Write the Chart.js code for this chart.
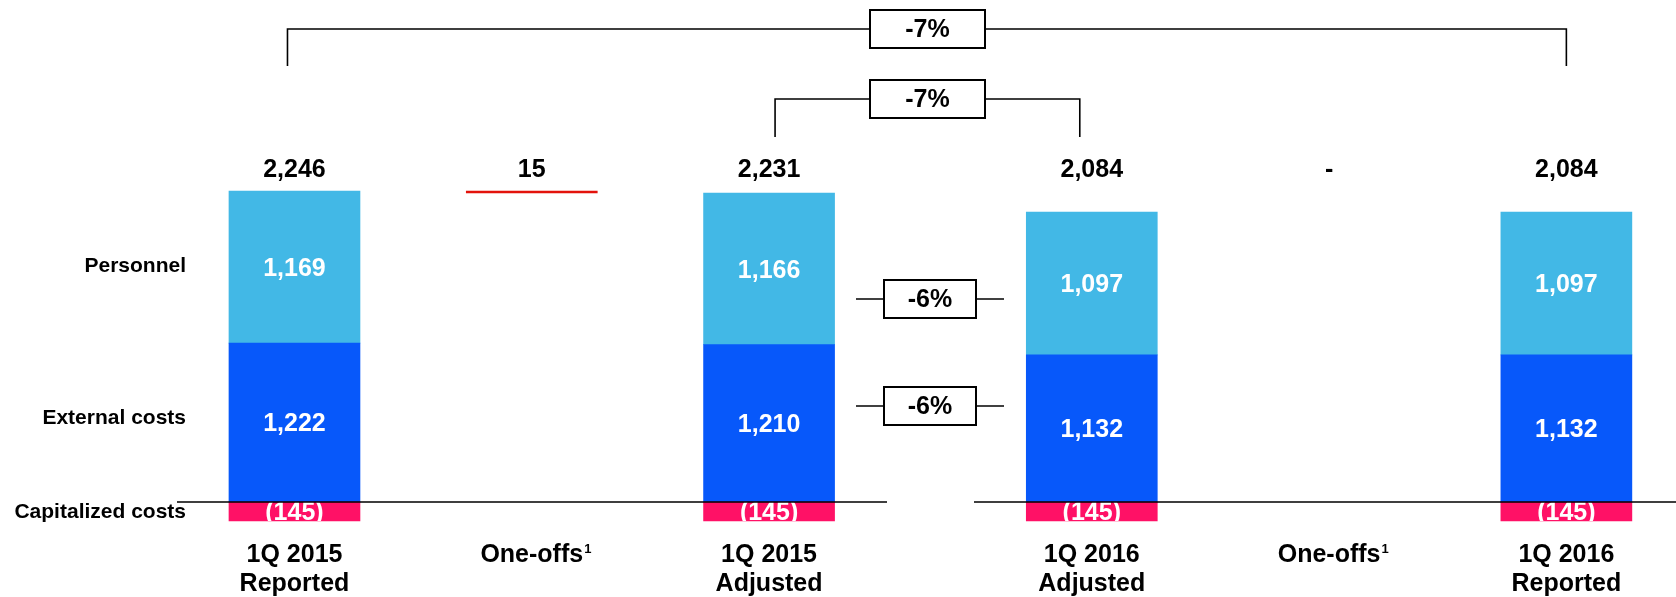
<!DOCTYPE html>
<html>
<head>
<meta charset="utf-8">
<script src="https://cdn.jsdelivr.net/npm/chart.js@4.4.1/dist/chart.umd.min.js"></script>
<style>
  html, body { margin: 0; padding: 0; background: #ffffff; overflow: hidden; }
  canvas { display: block; }
</style>
</head>
<body>
<canvas id="costs" width="1676" height="597"></canvas>
<script>
// Cost bridge, 1Q 2015 to 1Q 2016 (EUR m)
const categoryLines = [['1Q 2015', 'Reported'], ['One-offs'], ['1Q 2015', 'Adjusted'],
                       ['1Q 2016', 'Adjusted'], ['One-offs'], ['1Q 2016', 'Reported']];
const footnoteMarks = ['', '1', '', '', '1', ''];
const personnel        = [1169, null, 1166, 1097, null, 1097];
const externalCosts    = [1222, null, 1210, 1132, null, 1132];
const capitalizedCosts = [-145, null, -145, -145, null, -145];
const oneOffs          = [null, 15, null, null, 0, null];
const rowLabels = ['Personnel', 'External costs', 'Capitalized costs'];
const changeLabels = ['-7%', '-7%', '-6%', '-6%'];

// Horizontal slot of each column (the adjusted comparison gets extra room)
const slotPos = [0, 1, 2, 3.36, 4.36, 5.36];

const COLORS = {
  personnel: '#42B8E6',
  external: '#0758FA',
  capitalized: '#FF1166',
  oneOff: '#E3120B'
};
const FONT = '"Liberation Sans", Arial, Helvetica, sans-serif';

function points(values) {
  const out = [];
  values.forEach((v, i) => { if (v !== null) out.push({ x: slotPos[i], y: v }); });
  return out;
}

// One-off bars float on top of the previous column's gross stack
function oneOffPoints() {
  const out = [];
  oneOffs.forEach((v, i) => {
    if (v === null || v === 0) return;
    const top = personnel[i - 1] + externalCosts[i - 1];
    out.push({ x: slotPos[i], y: [top - v, top] });
  });
  return out;
}

const fmt = v => v.toLocaleString('en-US');

const overlay = {
  id: 'overlay',
  afterDatasetsDraw(chart) {
    const ctx = chart.ctx;
    const xs = chart.scales.x, ys = chart.scales.y;
    const cx = i => xs.getPixelForValue(slotPos[i]);
    const y0 = ys.getPixelForValue(0);
    ctx.save();

    // values inside the stacked segments
    ctx.textAlign = 'center';
    ctx.textBaseline = 'middle';
    ctx.fillStyle = '#ffffff';
    ctx.font = 'bold 25px ' + FONT;
    [1, 2].forEach(d => {
      const meta = chart.getDatasetMeta(d);
      meta.data.forEach((el, k) => {
        const v = meta._parsed[k].y;
        ctx.fillText(fmt(v), el.x, (el.y + el.base) / 2 + 2);
      });
    });
    // capitalized costs labels, clipped to the thin bars
    const metaC = chart.getDatasetMeta(0);
    metaC.data.forEach((el, k) => {
      const v = metaC._parsed[k].y;
      ctx.save();
      const top = Math.min(el.y, el.base), bot = Math.max(el.y, el.base);
      ctx.beginPath();
      ctx.rect(el.x - el.width / 2, top, el.width, bot - top);
      ctx.clip();
      ctx.fillText('(' + fmt(Math.abs(v)) + ')', el.x, (top + bot) / 2 + 2);
      ctx.restore();
    });

    // zero line, interrupted next to the change boxes
    ctx.strokeStyle = '#000000';
    ctx.lineWidth = 1.6;
    ctx.beginPath();
    ctx.moveTo(177, y0); ctx.lineTo(887, y0);
    ctx.moveTo(974, y0); ctx.lineTo(1676, y0);
    ctx.stroke();

    // totals row
    ctx.fillStyle = '#000000';
    ctx.font = 'bold 25px ' + FONT;
    const rowY = 170;
    for (let i = 0; i < slotPos.length; i++) {
      let txt;
      if (oneOffs[i] !== null) txt = oneOffs[i] === 0 ? '-' : fmt(oneOffs[i]);
      else txt = fmt(personnel[i] + externalCosts[i] + capitalizedCosts[i]);
      ctx.fillText(txt, cx(i), rowY);
    }

    // row labels on the left
    ctx.textAlign = 'right';
    ctx.font = 'bold 21px ' + FONT;
    const lx = 186;
    ctx.fillText(rowLabels[0], lx, ys.getPixelForValue(externalCosts[0] + personnel[0] / 2) - 1);
    ctx.fillText(rowLabels[1], lx, ys.getPixelForValue(externalCosts[0] / 2) - 4);
    ctx.fillText(rowLabels[2], lx, ys.getPixelForValue(capitalizedCosts[0] / 2) + 1);

    // category labels
    ctx.textAlign = 'center';
    for (let i = 0; i < categoryLines.length; i++) {
      const lines = categoryLines[i];
      lines.forEach((line, j) => {
        ctx.font = 'bold 25px ' + FONT;
        ctx.fillText(line, cx(i), 555 + j * 29);
        if (j === lines.length - 1 && footnoteMarks[i]) {
          const w = ctx.measureText(line).width;
          ctx.textAlign = 'left';
          ctx.font = 'bold 13px ' + FONT;
          ctx.fillText(footnoteMarks[i], cx(i) + w / 2 + 1, 549 + j * 29);
          ctx.textAlign = 'center';
        }
      });
    }

    // change brackets and boxes
    ctx.lineWidth = 1.6;
    function box(x, y, w, h, label) {
      ctx.fillStyle = '#ffffff';
      ctx.fillRect(x - w / 2, y - h / 2, w, h);
      ctx.lineWidth = 2;
      ctx.strokeRect(x - w / 2, y - h / 2, w, h);
      ctx.lineWidth = 1.6;
      ctx.fillStyle = '#000000';
      ctx.font = 'bold 25px ' + FONT;
      ctx.textAlign = 'center';
      ctx.fillText(label, x, y + 1);
    }
    function bracket(xl, xr, y, yb, label, bw, bh) {
      const bx = 927.5;
      ctx.beginPath();
      ctx.moveTo(xl, yb); ctx.lineTo(xl, y); ctx.lineTo(xr, y); ctx.lineTo(xr, yb);
      ctx.stroke();
      box(bx, y, bw, bh, label);
    }
    bracket(cx(0) - 7, cx(5), 29, 66, changeLabels[0], 115, 38);
    bracket(cx(2) + 6, cx(3) - 12, 99, 137, changeLabels[1], 115, 38);

    function segmentChange(y, label) {
      ctx.beginPath();
      ctx.moveTo(856, y); ctx.lineTo(1004, y);
      ctx.stroke();
      box(930, y, 92, 38, label);
    }
    segmentChange(299, changeLabels[2]);
    segmentChange(406, changeLabels[3]);

    ctx.restore();
  }
};

new Chart(document.getElementById('costs'), {
  type: 'bar',
  data: {
    datasets: [
      { label: 'Capitalized costs', data: points(capitalizedCosts), backgroundColor: COLORS.capitalized },
      { label: 'External costs', data: points(externalCosts), backgroundColor: COLORS.external },
      { label: 'Personnel', data: points(personnel), backgroundColor: COLORS.personnel },
      { label: 'One-offs', data: oneOffPoints(), backgroundColor: COLORS.oneOff }
    ]
  },
  options: {
    responsive: false,
    animation: false,
    events: [],
    layout: { padding: 0 },
    datasets: { bar: { barThickness: 131, borderWidth: 0 } },
    plugins: { legend: { display: false }, tooltip: { enabled: false } },
    scales: {
      x: { type: 'linear', display: false, stacked: true, offset: false, min: -1.241, max: 5.822 },
      y: { display: false, stacked: true, min: -730, max: 3860 }
    }
  },
  plugins: [overlay]
});
</script>
</body>
</html>
